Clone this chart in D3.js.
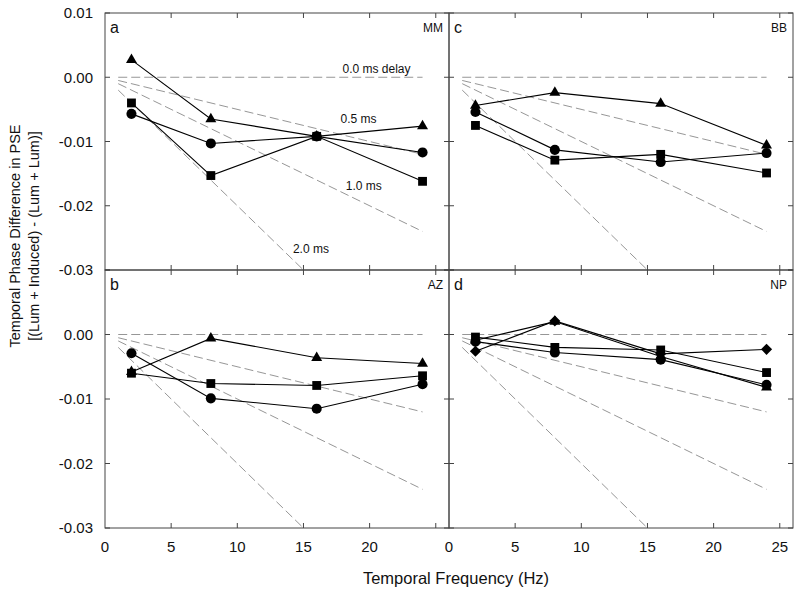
<!DOCTYPE html>
<html>
<head>
<meta charset="utf-8">
<script src="https://cdn.jsdelivr.net/npm/d3@7"></script>
<style>
  body { margin: 0; background: #fff; }
  svg { display: block; font-family: "Liberation Sans", Arial, sans-serif; }
</style>
</head>
<body>
<svg id="chart" width="800" height="597"></svg>
<script>
// ---------- DATA ----------
const freqs = [2, 8, 16, 24];
const delaysMs = [0.0, 0.5, 1.0, 2.0];
const delayLabels = ["0.0 ms delay", "0.5 ms", "1.0 ms", "2.0 ms"];
const refFreqRange = [1, 24];
const xTicks = [0, 5, 10, 15, 20, 25];
const yTicks = [0.01, 0.00, -0.01, -0.02, -0.03];
const yTickLabels = ["0.01", "0.00", "-0.01", "-0.02", "-0.03"];

// Panel a (MM)
const mmTriangle = [0.0027, -0.0065, -0.0092, -0.0076];
const mmCircle   = [-0.0057, -0.0103, -0.0092, -0.0117];
const mmSquare   = [-0.0040, -0.0153, -0.0092, -0.0162];
// Panel b (AZ)
const azTriangle = [-0.0058, -0.0006, -0.0036, -0.0045];
const azCircle   = [-0.0029, -0.0099, -0.0115, -0.0077];
const azSquare   = [-0.0060, -0.0076, -0.0079, -0.0064];
// Panel c (BB)
const bbTriangle = [-0.0044, -0.0024, -0.0041, -0.0106];
const bbCircle   = [-0.0054, -0.0113, -0.0132, -0.0118];
const bbSquare   = [-0.0075, -0.0129, -0.0120, -0.0149];
// Panel d (NP)
const npDiamond  = [-0.0026, 0.0021, -0.0030, -0.0023];
const npTriangle = [-0.0009, 0.0020, -0.0034, -0.0082];
const npCircle   = [-0.0011, -0.0028, -0.0039, -0.0078];
const npSquare   = [-0.0004, -0.0020, -0.0024, -0.0059];

const panels = [
  { letter: "a", subject: "MM", col: 0, row: 0, labels: true,
    series: [["triangle", mmTriangle], ["circle", mmCircle], ["square", mmSquare]] },
  { letter: "b", subject: "AZ", col: 0, row: 1, labels: false,
    series: [["triangle", azTriangle], ["square", azSquare], ["circle", azCircle]] },
  { letter: "c", subject: "BB", col: 1, row: 0, labels: false,
    series: [["triangle", bbTriangle], ["circle", bbCircle], ["square", bbSquare]] },
  { letter: "d", subject: "NP", col: 1, row: 1, labels: false,
    series: [["diamond", npDiamond], ["triangle", npTriangle], ["circle", npCircle], ["square", npSquare]] }
];

// ---------- LAYOUT ----------
const colX = [105, 449, 793];
const rowY = [13, 270, 528];
const svg = d3.select("#chart");
const tickLen = 5;
const frameColor = "#444";

const symbolFor = {
  triangle: d3.symbol(d3.symbolTriangle, 52)(),
  circle: d3.symbol(d3.symbolCircle, 80)(),
  square: d3.symbol(d3.symbolSquare, 78)(),
  diamond: d3.symbol(d3.symbolSquare, 62)()
};

panels.forEach((p, i) => {
  const x0 = colX[p.col], x1 = colX[p.col + 1];
  const y0 = rowY[p.row], y1 = rowY[p.row + 1];
  const x = d3.scaleLinear().domain([0, 26]).range([x0, x1]);
  const y = d3.scaleLinear().domain([-0.03, 0.01]).range([y1, y0]);

  const g = svg.append("g");
  const clipId = "clip" + i;
  svg.append("clipPath").attr("id", clipId)
    .append("rect").attr("x", x0).attr("y", y0).attr("width", x1 - x0).attr("height", y1 - y0);

  // reference delay lines
  const refG = g.append("g").attr("clip-path", `url(#${clipId})`);
  delaysMs.forEach((dms) => {
    const f = refFreqRange;
    refG.append("line")
      .attr("x1", x(f[0])).attr("y1", y(-dms / 1000 * f[0]))
      .attr("x2", x(f[1])).attr("y2", y(-dms / 1000 * f[1]))
      .attr("stroke", "#8a8a8a").attr("stroke-width", 0.9)
      .attr("stroke-dasharray", "9,4");
  });

  // delay labels (panel a only)
  if (p.labels) {
    const labelPos = [[17.95, 0.0007], [17.8, -0.0071], [18.2, -0.0175], [14.2, -0.0273]];
    delaysMs.forEach((dms, k) => {
      g.append("text").attr("x", x(labelPos[k][0])).attr("y", y(labelPos[k][1]))
        .attr("font-size", 12).attr("fill", "#111").text(delayLabels[k]);
    });
  }

  // frame
  g.append("rect").attr("x", x0).attr("y", y0).attr("width", x1 - x0).attr("height", y1 - y0)
    .attr("fill", "none").attr("stroke", frameColor).attr("stroke-width", 1);

  // ticks (inward on all sides)
  xTicks.filter(t => t > 0).forEach(t => {
    g.append("line").attr("x1", x(t)).attr("x2", x(t)).attr("y1", y1).attr("y2", y1 - tickLen)
      .attr("stroke", frameColor);
    g.append("line").attr("x1", x(t)).attr("x2", x(t)).attr("y1", y0).attr("y2", y0 + tickLen)
      .attr("stroke", frameColor);
  });
  yTicks.forEach(t => {
    g.append("line").attr("x1", x0).attr("x2", x0 + tickLen).attr("y1", y(t)).attr("y2", y(t))
      .attr("stroke", frameColor);
    g.append("line").attr("x1", x1).attr("x2", x1 - tickLen).attr("y1", y(t)).attr("y2", y(t))
      .attr("stroke", frameColor);
  });

  // y tick labels (left column)
  if (p.col === 0) {
    yTicks.forEach((t, k) => {
      if (p.row === 1 && k === 0) return;
      svg.append("text").attr("x", x0 - 12).attr("y", y(t)).attr("dy", "0.35em")
        .attr("text-anchor", "end").attr("font-size", 15).attr("fill", "#111")
        .text(yTickLabels[k]);
    });
  }
  // x tick labels (bottom row)
  if (p.row === 1) {
    xTicks.forEach(t => {
      if (p.col === 0 && t === 25) return;
      svg.append("text").attr("x", x(t)).attr("y", y1 + 24)
        .attr("text-anchor", "middle").attr("font-size", 15).attr("fill", "#111")
        .text(t);
    });
  }

  // data lines
  const line = d3.line().x((d, j) => x(freqs[j])).y(d => y(d));
  p.series.forEach(([shape, vals]) => {
    g.append("path").datum(vals).attr("d", line)
      .attr("fill", "none").attr("stroke", "#000").attr("stroke-width", 1.1);
  });
  p.series.forEach(([shape, vals]) => {
    g.selectAll(null).data(vals).enter().append("path")
      .attr("d", symbolFor[shape])
      .attr("transform", (d, j) => `translate(${x(freqs[j])},${y(d)})` + (shape === "diamond" ? " rotate(45)" : ""))
      .attr("fill", "#000");
  });

  // panel letter and subject
  g.append("text").attr("x", x0 + 5).attr("y", y0 + 20).attr("font-size", 16).attr("fill", "#111")
    .text(p.letter);
  g.append("text").attr("x", x1 - 6).attr("y", y0 + 19).attr("text-anchor", "end")
    .attr("font-size", 12).attr("fill", "#111").text(p.subject);
});

// axis titles
svg.append("text").attr("x", 456).attr("y", 584).attr("text-anchor", "middle")
  .attr("font-size", 16.5).attr("fill", "#111").text("Temporal Frequency (Hz)");
const yt = svg.append("text").attr("transform", "translate(0,236) rotate(-90)")
  .attr("text-anchor", "middle").attr("font-size", 14.5).attr("fill", "#111");
yt.append("tspan").attr("x", 0).attr("y", 20).text("Temporal Phase Difference in PSE");
yt.append("tspan").attr("x", 0).attr("y", 39).text("[(Lum + Induced) - (Lum + Lum)]");
</script>
</body>
</html>
